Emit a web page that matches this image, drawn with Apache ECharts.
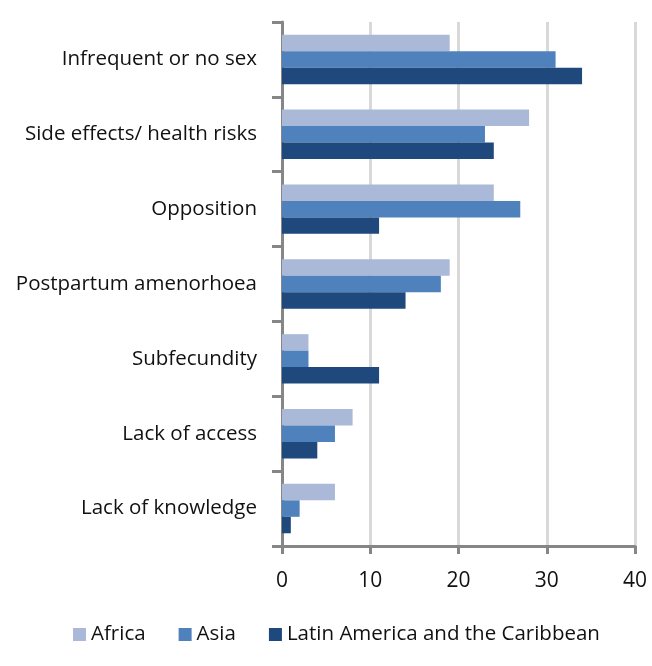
<!DOCTYPE html>
<html><head><meta charset="utf-8">
<script src="https://cdn.jsdelivr.net/npm/echarts@6/dist/echarts.min.js"></script>
<style>html,body{margin:0;padding:0;background:#fff}#c{width:652px;height:666px}</style>
</head><body><div id="c"></div>
<script>
var categories = ["Infrequent or no sex","Side effects/ health risks","Opposition","Postpartum amenorhoea","Subfecundity","Lack of access","Lack of knowledge"];
var africa = [19, 28, 24, 19, 3, 8, 6];
var asia = [31, 23, 27, 18, 3, 6, 2];
var latinAmerica = [34, 24, 11, 14, 11, 4, 1];
var xTicks = [0, 10, 20, 30, 40];

var font = "'Open Sans', sans-serif";
var chart = echarts.init(document.getElementById('c'));
chart.setOption({
  animation: false,
  grid: {left: 282, right: 17, top: 22, bottom: 120},
  legend: {
    top: 624, left: 73, padding: 0,
    itemWidth: 13, itemHeight: 13, itemGap: 33,
    icon: 'rect',
    textStyle: {fontFamily: font, fontSize: 20.5, color: '#111'},
    data: ['Africa','Asia','Latin America and the Caribbean']
  },
  xAxis: {
    type: 'value', min: xTicks[0], max: xTicks[xTicks.length-1], interval: 10,
    axisLine: {show: true, lineStyle: {color: '#868686', width: 3}},
    axisTick: {show: true, length: 8, lineStyle: {color: '#868686', width: 3}},
    axisLabel: {margin: 25, fontFamily: font, fontSize: 21, color: '#111'},
    splitLine: {show: true, lineStyle: {color: '#d9d9d9', width: 3}}
  },
  yAxis: {
    type: 'category', data: categories, inverse: true,
    axisLine: {show: true, lineStyle: {color: '#868686', width: 3}},
    axisTick: {show: true, length: 10, lineStyle: {color: '#868686', width: 3}},
    axisLabel: {margin: 25, fontFamily: font, fontSize: 20.5, color: '#111', verticalAlign: 'middle', padding: [0,0,4,0]},
    splitLine: {show: false}
  },
  series: [
    {name: 'Africa', type: 'bar', data: africa, itemStyle: {color: '#aab9d8'}, barGap: '0%', barCategoryGap: '34%'},
    {name: 'Asia', type: 'bar', data: asia, itemStyle: {color: '#4f81bd'}, barGap: '0%', barCategoryGap: '34%'},
    {name: 'Latin America and the Caribbean', type: 'bar', data: latinAmerica, itemStyle: {color: '#1f497d'}, barGap: '0%', barCategoryGap: '34%'}
  ]
});
</script></body></html>
